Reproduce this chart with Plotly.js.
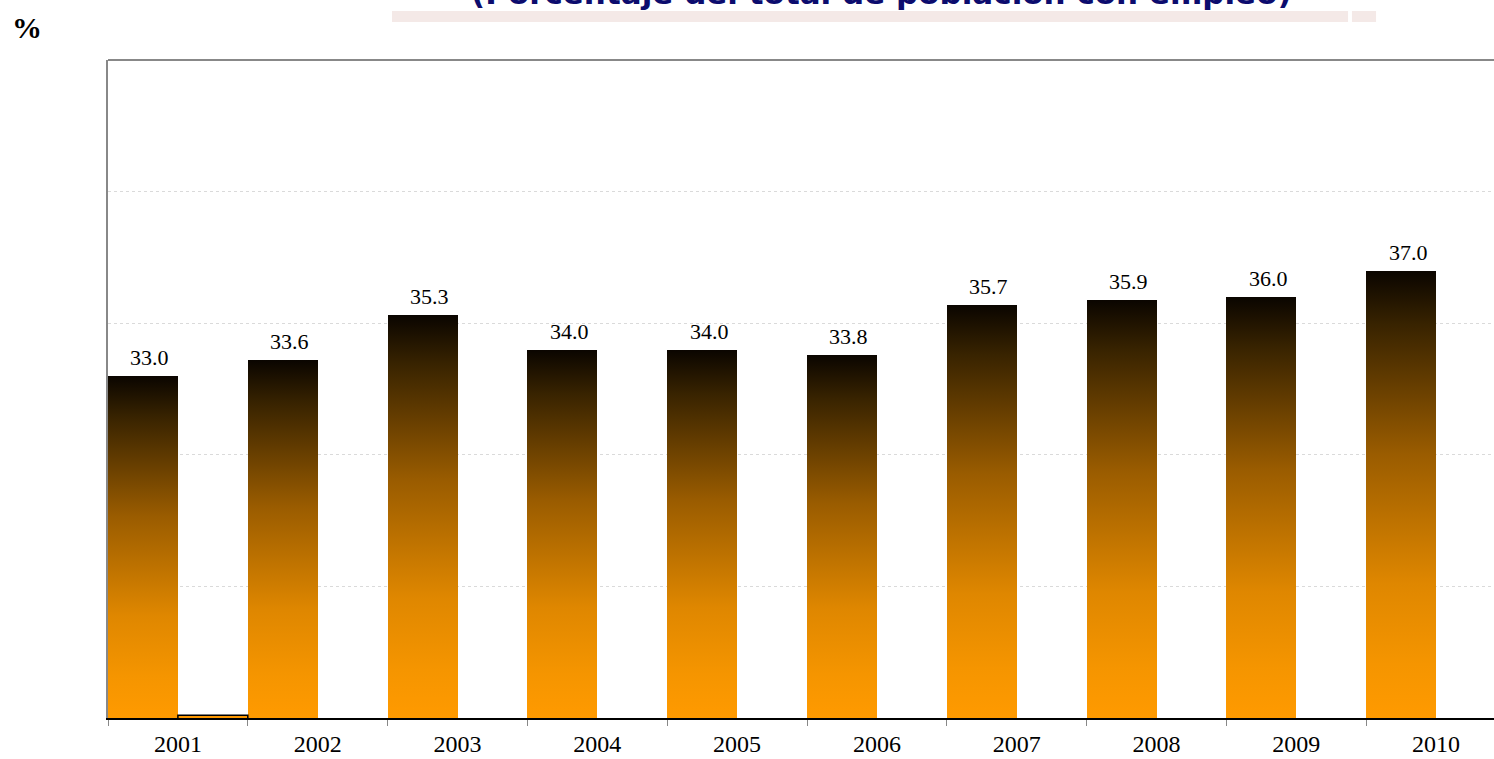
<!DOCTYPE html>
<html>
<head>
<meta charset="utf-8">
<script src="https://cdn.plot.ly/plotly-3.0.1.min.js"></script>
<style>
  html, body { margin: 0; padding: 0; background: #ffffff; }
  #chart { width: 1494px; height: 759px; }
</style>
</head>
<body>
<div id="chart"></div>
<script>
// ---- data ----
const years = ['2001', '2002', '2003', '2004', '2005', '2006', '2007', '2008', '2009', '2010'];
const shares = [33.0, 33.6, 35.3, 34.0, 34.0, 33.8, 35.7, 35.9, 36.0, 37.0];
const axisFloor = 20;   // y-axis starts at 20 %
const axisCeil = 45;
// second (almost empty) series: only a sliver for 2001, height above the floor
const secondSeries = [0.16, null, null, null, null, null, null, null, null, null];
const titleText = '(Porcentaje del total de población con empleo)';

// ---- traces ----
const mainBars = {
  type: 'bar',
  x: years,
  y: shares.map(v => v - axisFloor),
  base: axisFloor,
  marker: { color: '#ff9900', line: { width: 0 } },
  hoverinfo: 'skip',
  showlegend: false
};
const sliverBars = {
  type: 'bar',
  x: years,
  y: secondSeries,
  base: axisFloor - 0.06,
  marker: { color: '#ff9900', line: { color: '#000000', width: 1.5 } },
  hoverinfo: 'skip',
  showlegend: false
};

const valueLabels = years.map((yr, i) => ({
  x: i, y: shares[i], xref: 'x', yref: 'y',
  text: shares[i].toFixed(1),
  showarrow: false, yanchor: 'bottom', xanchor: 'center',
  xshift: -28, yshift: 4,
  font: { family: 'Liberation Serif, serif', size: 22, color: '#000000' }
}));

const layout = {
  width: 1494, height: 759,
  margin: { l: 108, r: 0, t: 60, b: 41, pad: 0 },
  paper_bgcolor: '#ffffff', plot_bgcolor: '#ffffff',
  barmode: 'group', bargap: 0, bargroupgap: 0,
  showlegend: false,
  xaxis: {
    type: 'category',
    range: [-0.5, 9.414],
    tickson: 'boundaries',
    ticks: 'outside', ticklen: 6, tickcolor: '#888888', tickwidth: 1,
    ticklabelstandoff: 4,
    showline: true, linecolor: '#000000', linewidth: 1.5,
    showgrid: false, zeroline: false,
    tickfont: { family: 'Liberation Serif, serif', size: 24, color: '#000000' }
  },
  yaxis: {
    range: [axisFloor, axisCeil],
    dtick: 5,
    showticklabels: false,
    ticks: '',
    showgrid: true, gridcolor: '#dadada', gridwidth: 1, griddash: 'dot',
    showline: true, linecolor: '#888888', linewidth: 2.5,
    zeroline: false
  },
  shapes: [
    { type: 'line', xref: 'paper', yref: 'paper', x0: 0, x1: 1, y0: 1, y1: 1,
      line: { color: '#888888', width: 2 } },
    { type: 'rect', xref: 'paper', yref: 'paper', x0: 0.2049, x1: 0.8947, y0: 1.0578, y1: 1.0745,
      fillcolor: '#f4e9e7', line: { width: 0 }, layer: 'below' },
    { type: 'rect', xref: 'paper', yref: 'paper', x0: 0.8975, x1: 0.9149, y0: 1.0578, y1: 1.0745,
      fillcolor: '#f4e9e7', line: { width: 0 }, layer: 'below' }
  ],
  annotations: valueLabels.concat([
    { xref: 'paper', yref: 'paper', x: 0.5584, y: 1.072, xanchor: 'center', yanchor: 'bottom',
      text: '<b>' + titleText + '</b>', showarrow: false,
      font: { family: 'DejaVu Sans, sans-serif', size: 31, color: '#0c0c6e' } },
    { xref: 'paper', yref: 'paper', x: -0.0584, y: 1.050, xanchor: 'center', yanchor: 'middle',
      text: '<b>%</b>', showarrow: false,
      font: { family: 'Liberation Serif, serif', size: 30, color: '#000000' } }
  ])
};

const gd = document.getElementById('chart');
Plotly.newPlot(gd, [mainBars, sliverBars], layout, { staticPlot: true, displayModeBar: false })
  .then(applyGradient);

function applyGradient() {
  const NS = 'http://www.w3.org/2000/svg';
  const svg = gd.querySelector('svg.main-svg');
  let defs = svg.querySelector('defs');
  if (!defs) { defs = document.createElementNS(NS, 'defs'); svg.insertBefore(defs, svg.firstChild); }
  const lg = document.createElementNS(NS, 'linearGradient');
  lg.setAttribute('id', 'barGrad');
  lg.setAttribute('x1', '0'); lg.setAttribute('y1', '0');
  lg.setAttribute('x2', '0'); lg.setAttribute('y2', '1');
  const stops = [
    [0, '#0a0500'], [0.12, '#382300'], [0.41, '#9a5c00'],
    [0.70, '#df8700'], [0.88, '#f59500'], [1, '#ff9a00']
  ];
  stops.forEach(([o, c]) => {
    const s = document.createElementNS(NS, 'stop');
    s.setAttribute('offset', o);
    s.setAttribute('stop-color', c);
    lg.appendChild(s);
  });
  defs.appendChild(lg);
  const traces = gd.querySelectorAll('.barlayer .trace');
  if (traces.length) {
    traces[0].querySelectorAll('path').forEach(p => { p.style.fill = 'url(#barGrad)'; });
  }
}
</script>
</body>
</html>
